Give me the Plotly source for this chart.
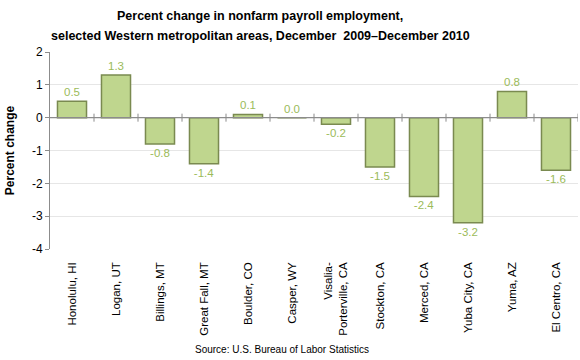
import plotly.graph_objects as go

categories = ["Honolulu, HI", "Logan, UT", "Billings, MT", "Great Fall, MT", "Boulder, CO",
              "Casper, WY", "Visalia-<br>Porterville, CA", "Stockton, CA", "Merced, CA",
              "Yuba City, CA", "Yuma, AZ", "El Centro, CA"]
values = [0.5, 1.3, -0.8, -1.4, 0.1, 0.0, -0.2, -1.5, -2.4, -3.2, 0.8, -1.6]
y_ticks = [2, 1, 0, -1, -2, -3, -4]
title_lines = ["Percent change in nonfarm payroll employment,",
               "selected Western metropolitan areas, December  2009\u2013December 2010"]

xs = list(range(len(categories)))
PLOT_H = 360 - 52 - 111
PLOT_W = 580 - 50 - 2

fig = go.Figure()
fig.add_trace(go.Bar(
    x=xs, y=values, width=0.66,
    marker=dict(color="#BFD68E", line=dict(color="#7A8A50", width=1.5)),
    text=[f"{v:.1f}" for v in values], textposition="outside",
    textfont=dict(family="Liberation Sans", size=11.5, color="#9BBB59"),
    cliponaxis=False,
))

# zero axis line and crossing tick marks at category boundaries
fig.add_shape(type="line", xref="x", yref="y", x0=-0.5, x1=len(categories) - 0.5, y0=0, y1=0,
              line=dict(color="#8C8C8C", width=1.2))
for i in range(len(categories)):
    fig.add_shape(type="line", xref="x", yref="y", ysizemode="pixel", yanchor=0,
                  x0=i + 0.5, x1=i + 0.5, y0=-4, y1=4, line=dict(color="#8C8C8C", width=1))

annotations = [dict(text="Source: U.S. Bureau of Labor Statistics", xref="paper", yref="paper",
                    x=(282 - 50) / PLOT_W, y=-(349 - 249) / PLOT_H, xanchor="center", yanchor="middle",
                    showarrow=False, font=dict(family="Liberation Sans", size=10, color="black"))]
for line, ypx in zip(title_lines, [16, 36]):
    annotations.append(dict(text=f"<b>{line}</b>", xref="paper", yref="paper",
                            x=(260 - 50) / PLOT_W, y=1 + (52 - ypx) / PLOT_H, xanchor="center",
                            yanchor="middle", showarrow=False,
                            font=dict(family="Liberation Sans", size=12.5, color="black")))

fig.update_layout(
    width=580, height=360,
    margin=dict(l=50, r=2, t=52, b=111, autoexpand=False),
    paper_bgcolor="white", plot_bgcolor="white",
    showlegend=False,
    xaxis=dict(range=[-0.5, len(categories) - 0.5], tickmode="array", tickvals=xs, ticktext=categories,
               tickangle=-90, showgrid=False, zeroline=False, showline=False, ticks="", automargin=False,
               ticklabelstandoff=10,
               tickfont=dict(family="Liberation Sans", size=11.5, color="black")),
    yaxis=dict(range=[-4, 2], tickmode="array", tickvals=y_ticks, ticktext=[str(t) for t in y_ticks],
               showgrid=True, gridcolor="#E6E6E6", gridwidth=1, zeroline=False, automargin=False,
               showline=True, linecolor="#8C8C8C", linewidth=1, ticks="outside", ticklen=4,
               tickcolor="#8C8C8C",
               tickfont=dict(family="Liberation Sans", size=12, color="black"),
               title=dict(text="<b>Percent change</b>", standoff=14,
                          font=dict(family="Liberation Sans", size=12, color="black"))),
    annotations=annotations,
)

fig.write_html("out.html", config={"displayModeBar": False},
               post_script="document.body.style.margin='0';document.body.style.overflow='hidden';")
